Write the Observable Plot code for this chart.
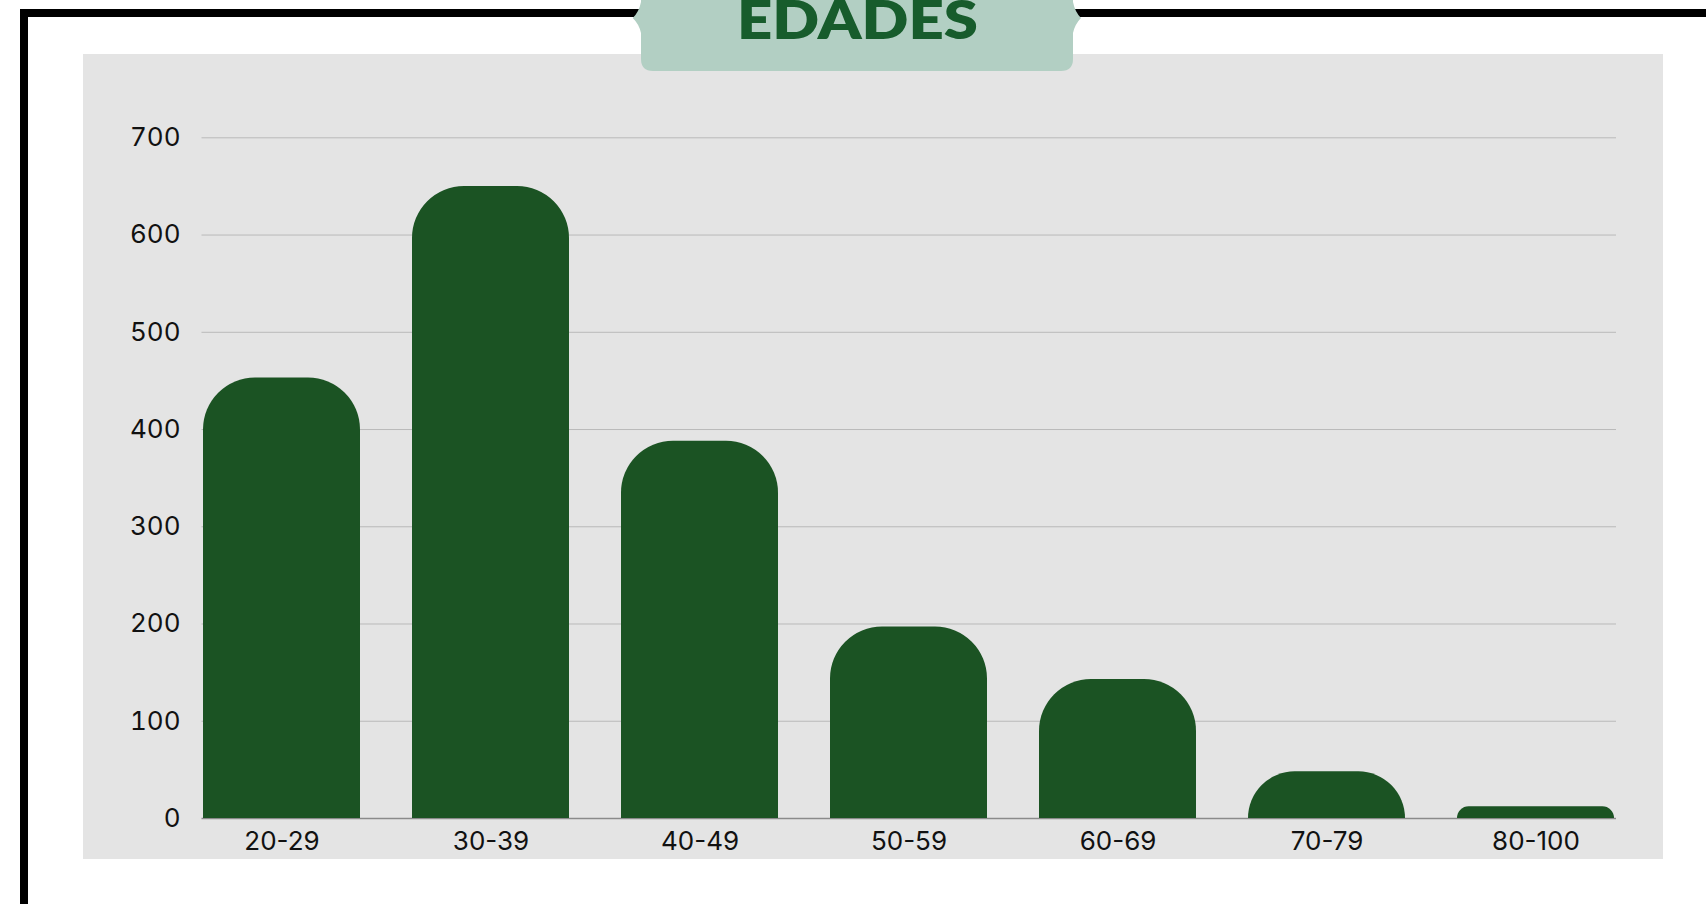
<!DOCTYPE html>
<html>
<head>
<meta charset="utf-8">
<script src="https://cdn.jsdelivr.net/npm/d3@7"></script>
<script src="https://cdn.jsdelivr.net/npm/@observablehq/plot@0.6"></script>
<style>
  html, body { margin: 0; padding: 0; background: #ffffff; }
  body { width: 1706px; height: 904px; overflow: hidden; position: relative; font-family: Inter, Lato, sans-serif; }
  #frame { position: absolute; left: 20px; top: 9px; width: 1800px; height: 1000px; border: 8px solid #000; box-sizing: border-box; }
  #panel { position: absolute; left: 83px; top: 54px; width: 1580px; height: 805px; background: #e4e4e4; }
  #badge { position: absolute; left: 0; top: 0; width: 1706px; height: 90px; overflow: visible; }
</style>
</head>
<body>
<div id="frame"></div>
<div id="panel"></div>
<svg id="badge" width="1706" height="90" viewBox="0 0 1706 90">
  <path d="M641,-10 L641,2 Q639,12 632.7,18 Q639,24 641,33 L641,59 Q641,71 653,71 L1061,71 Q1073,71 1073,59 L1073,33 Q1075,24 1081,18 Q1075,12 1073,2 L1073,-10 Z" fill="#b2cfc3"/>
  <text x="857.5" y="39" text-anchor="middle" textLength="241" lengthAdjust="spacingAndGlyphs" font-family="Lato, sans-serif" font-weight="800" font-size="52" fill="#175c2c">EDADES</text>
</svg>
<script>
const categories = ["20-29", "30-39", "40-49", "50-59", "60-69", "70-79", "80-100"];
const counts = [453, 650, 388, 197, 143, 48, 12];
const yTicks = [0, 100, 200, 300, 400, 500, 600, 700];

const data = categories.map((c, i) => ({group: c, count: counts[i]}));

const chart = Plot.plot({
  width: 1580,
  height: 805,
  marginLeft: 118.5,
  marginRight: 47,
  marginTop: 83.3,
  marginBottom: 41,
  style: "background: transparent; font-family: Inter, Lato, sans-serif; font-size: 26px; color: #111;",
  x: {domain: categories, paddingInner: 0.25, paddingOuter: 0, label: null, tickSize: 0, tickPadding: 13},
  y: {domain: [0, 700], ticks: yTicks, label: null, tickSize: 0, tickPadding: 21.5},
  marks: [
    Plot.ruleY(yTicks.slice(1), {stroke: "#b9b9b9", strokeWidth: 1}),
    Plot.ruleY([0], {stroke: "#8a8a8a", strokeWidth: 1.5}),
    Plot.barY(data, {x: "group", y: "count", fill: "#1b5323", ry1: 52})
  ]
});
chart.style.position = "absolute";
chart.style.left = "83px";
chart.style.top = "54px";
document.body.appendChild(chart);
</script>
</body>
</html>
